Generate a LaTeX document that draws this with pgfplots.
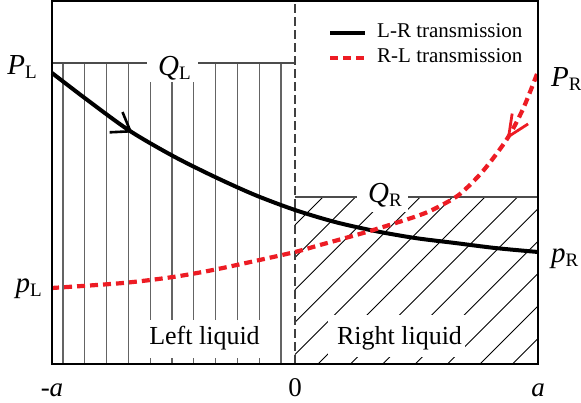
\documentclass[border=0pt]{standalone}
\usepackage{fontspec}
\setmainfont{Liberation Serif}
\newfontfamily\tnr{Liberation Serif}
\usepackage{pgfplots}
\pgfplotsset{compat=1.18}
\usetikzlibrary{arrows.meta,decorations.markings}

\definecolor{rlred}{RGB}{237,28,36}
\definecolor{hatchgray}{RGB}{100,100,100}

% symbol with a lowered upright subscript, e.g. P_L
\newcommand{\sym}[2]{\textit{#1}\raisebox{-4pt}{\fontsize{19}{19}\selectfont #2}}

\begin{document}
\begin{tikzpicture}
\useasboundingbox (-52pt,-39pt) rectangle (529pt,364pt);
\begin{axis}[
  at={(0pt,0pt)}, anchor=south west,
  scale only axis, width=486pt, height=363pt,
  xmin=-243, xmax=243, ymin=0, ymax=363,
  axis on top, clip=false,
  axis line style={line width=1.8pt},
  xtick={-243,0,243}, xticklabels={{\tnr-\textit{a}},{\tnr 0},{\tnr\textit{a}}},
  ytick=\empty, major tick length=0pt,
  xticklabel style={font=\tnr\fontsize{27}{27}\selectfont, anchor=base, yshift=-33pt},
  legend style={at={(axis cs:33,340)}, anchor=north west, draw=none, fill=none,
    inner sep=0pt, outer sep=0pt, font=\tnr\fontsize{21}{21}\selectfont, row sep=7pt,
    nodes={inner sep=0pt, text height=14pt, text depth=4pt},
    /tikz/every odd column/.append style={column sep=10pt}},
  legend cell align=left,
  legend image code/.code={\draw[#1] (0pt,0pt) -- (35pt,0pt);},
]
\addlegendimage{black, line width=4pt}
\addlegendentry{\tnr L-R transmission}
\addlegendimage{rlred, line width=4.2pt, dash pattern=on 8pt off 5pt}
\addlegendentry{\tnr R-L transmission}

% vertical hatching of the left liquid
\pgfplotsinvokeforeach{-232,-210.2,-188.4,-166.6,-144.8,-123,-101.2,-79.4,-57.6,-35.8,-14}{
  \addplot[forget plot, hatchgray, line width=1.2pt] coordinates {(#1,0) (#1,301)};
}
\addplot[forget plot, black!70, line width=1.4pt] coordinates {(-243,301) (0,301)};

% oblique hatching of the right liquid
\addplot[forget plot, black, line width=0.9pt, unbounded coords=jump] coordinates {
  (0,139) (28,167) (0,nan)
  (0,106.6) (60.4,167) (0,nan)
  (0,74.2) (92.8,167) (0,nan)
  (0,41.8) (125.2,167) (0,nan)
  (0,9.4) (157.6,167) (0,nan)
  (23,0) (190,167) (0,nan)
  (55.4,0) (222.4,167) (0,nan)
  (87.8,0) (243,155.2) (0,nan)
  (120.2,0) (243,122.8) (0,nan)
  (152.6,0) (243,90.4) (0,nan)
  (185,0) (243,58) (0,nan)
  (217.4,0) (243,25.6)
};
\addplot[forget plot, black!70, line width=1.4pt] coordinates {(0,167) (243,167)};

% interface between the liquids
\addplot[forget plot, black!75, line width=1.2pt, dash pattern=on 9pt off 4pt] coordinates {(0,0) (0,363)};

% labels of the layers
\node[fill=white, inner sep=0pt, minimum width=51pt, minimum height=32pt] at (axis cs:-122.5,298) {};
\node[anchor=base west, inner sep=0pt, font=\fontsize{29}{29}\selectfont] at (axis cs:-137,288) {\sym{Q}{L}};
\node[fill=white, inner sep=0pt, minimum width=51pt, minimum height=30pt] at (axis cs:87.5,167) {};
\node[anchor=base west, inner sep=0pt, font=\fontsize{29}{29}\selectfont] at (axis cs:73,161) {\sym{Q}{R}};
\node[fill=white, inner sep=0pt, minimum width=115pt, minimum height=38pt] at (axis cs:-90.5,25) {};
\node[anchor=base, inner sep=0pt, font=\fontsize{26}{26}\selectfont] at (axis cs:-90.5,19) {Left liquid};
\node[fill=white, inner sep=0pt, minimum width=137pt, minimum height=42pt] at (axis cs:101.5,28) {};
\node[anchor=base, inner sep=0pt, font=\fontsize{26}{26}\selectfont] at (axis cs:104.5,19) {Right liquid};

% boundary values
\node[anchor=base east, inner sep=0pt, font=\fontsize{29}{29}\selectfont] at (axis cs:-258,289) {\sym{P}{L}};
\node[anchor=base east, inner sep=0pt, font=\fontsize{29}{29}\selectfont] at (axis cs:-253,71) {\sym{p}{L}};
\node[anchor=base west, inner sep=0pt, font=\fontsize{29}{29}\selectfont] at (axis cs:256,277) {\sym{P}{R}};
\node[anchor=base west, inner sep=0pt, font=\fontsize{29}{29}\selectfont] at (axis cs:256,101) {\sym{p}{R}};

% L-R transmission
\addplot[forget plot, black, line width=4pt, smooth, postaction={decorate},
  decoration={markings, mark=at position 100pt with {\arrow{Straight Barb[length=17pt,width=24pt,line width=2.6pt]}}}]
  coordinates {(-243,291) (-205,262) (-165,233) (-122,208) (-80,187) (-40,169) (0,154)
               (40,142) (80,133) (120,126) (160,121) (200,116) (243,112)};

% R-L transmission
\addplot[forget plot, rlred, line width=4.2pt, dash pattern=on 8pt off 5pt, smooth, postaction={decorate},
  decoration={markings, mark=at position 72pt with {\arrow{Straight Barb[length=21pt,width=19pt,line width=2.8pt]}}}]
  coordinates {(242,290) (228,255) (212,225) (188,193) (165,170) (145,158) (125,149) (75,133)
               (25,119) (0,112) (-40,103) (-82,94) (-122,87) (-172,81) (-243,76)};
\end{axis}
\end{tikzpicture}
\end{document}
